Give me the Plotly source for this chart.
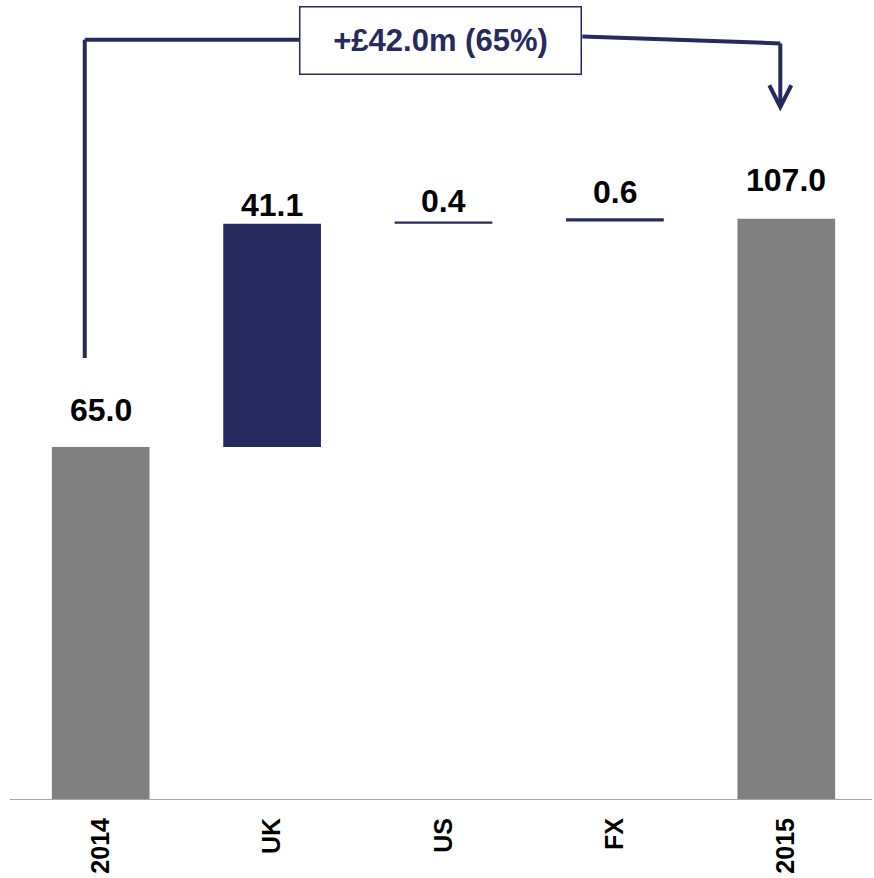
import plotly.graph_objects as go

categories = ["2014", "UK", "US", "FX", "2015"]
measures = ["absolute", "relative", "relative", "relative", "absolute"]
values = [65.0, 41.1, 0.4, 0.6, 107.0]
labels = ["65.0", "41.1", "0.4", "0.6", "107.0"]
label_shift = [37, 19, 21, 26, 39]  # px above bar top
change_text = "+£42.0m (65%)"

NAVY = "#262a5f"
GRAY = "#808080"
FONT = "Liberation Sans, Arial, sans-serif"

# compute bar tops
tops = []
run = 0.0
for m, v in zip(measures, values):
    if m == "absolute":
        run = v
    else:
        run += v
    tops.append(run)

fig = go.Figure(go.Waterfall(
    x=categories, y=values, measure=measures,
    increasing=dict(marker=dict(color=NAVY, line=dict(width=0))),
    decreasing=dict(marker=dict(color=NAVY, line=dict(width=0))),
    totals=dict(marker=dict(color=GRAY, line=dict(width=0))),
    connector=dict(visible=False),
    textposition="none", hoverinfo="skip",
))

for i, (t, lab, s) in enumerate(zip(tops, labels, label_shift)):
    fig.add_annotation(x=i, y=t, xref="x", yref="y", text=lab, showarrow=False, yanchor="middle",
                       yshift=s, font=dict(family=FONT, size=32, color="black", weight="bold"))

# bracket
x_left = -0.093
x_right = 4 - 0.035
y_start = values[0] + 16.4
y_top_l = 140.0
y_top_r = 139.3
y_tip = 127.6
line = dict(color=NAVY, width=4)
fig.add_shape(type="line", xref="x", yref="y", x0=x_left, x1=x_left, y0=y_start, y1=y_top_l, line=line)
fig.add_shape(type="line", xref="x", yref="y", x0=x_left, x1=1.16, y0=y_top_l, y1=y_top_l, line=line)
fig.add_shape(type="line", xref="x", yref="y", x0=2.81, x1=x_right, y0=140.6, y1=y_top_r, line=line)
fig.add_shape(type="line", xref="x", yref="y", x0=x_right, x1=x_right, y0=y_top_r, y1=y_tip, line=line)
fig.add_shape(type="path", xref="x", yref="y",
              path=f"M {x_right-0.064},{y_tip+4.0} L {x_right},{y_tip} L {x_right+0.064},{y_tip+4.0}",
              line=dict(color=NAVY, width=4))
fig.add_annotation(x=1.98, y=139.9, xref="x", yref="y", text=change_text, showarrow=False,
                   font=dict(family=FONT, size=31, color=NAVY, weight="bold"),
                   bgcolor="white", bordercolor=NAVY, borderwidth=1.5,
                   width=278, height=64, align="center", valign="middle")

# baseline axis
fig.add_shape(type="line", xref="paper", yref="y", x0=-0.006, x1=1.0, y0=0, y1=0,
              line=dict(color="#a6a6a6", width=2))

fig.update_layout(
    width=874, height=878,
    margin=dict(l=15, r=2, t=0, b=78),
    plot_bgcolor="white", paper_bgcolor="white",
    showlegend=False,
    waterfallgap=0.43,
    xaxis=dict(type="category", range=[-0.5, 4.5], showgrid=False, showline=False,
               tickangle=-90, ticks="", ticklabelstandoff=12,
               tickfont=dict(family=FONT, size=25, color="black", weight="bold")),
    yaxis=dict(range=[0, 147.3], visible=False, showgrid=False, zeroline=False),
)

fig.write_html("out.html")
